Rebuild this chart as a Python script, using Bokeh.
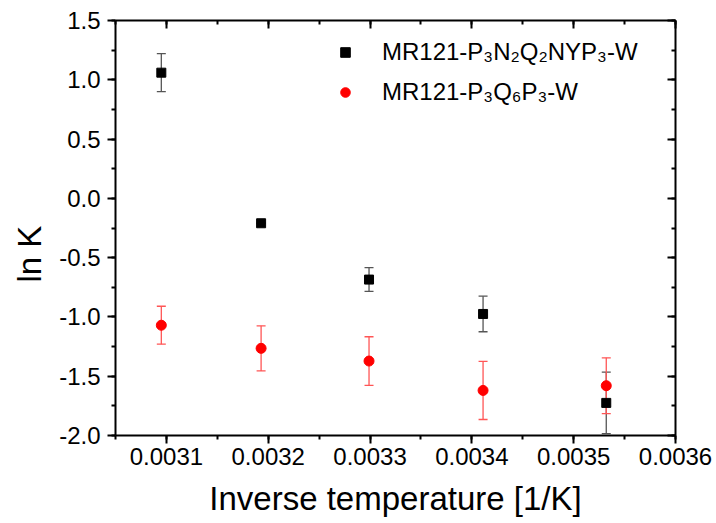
import math
from bokeh.plotting import figure
from bokeh.models import (ColumnDataSource, Whisker, TeeHead, LinearAxis, Range1d, Title,
                          SingleIntervalTicker, Legend, LegendItem, NumeralTickFormatter)
from bokeh.embed import file_html
from bokeh.resources import INLINE

# ---- data ----
inv_T = [0.003095, 0.003193, 0.003299, 0.003411, 0.003532]
lnK_a = [1.06, -0.21, -0.685, -0.975, -1.725]
err_a = [0.16, 0.0, 0.10, 0.15, 0.26]
lnK_b = [-1.07, -1.265, -1.372, -1.62, -1.58]
err_b = [0.16, 0.19, 0.205, 0.245, 0.235]
label_a = "MR121-P₃N₂Q₂NYP₃-W"
label_b = "MR121-P₃Q₆P₃-W"
x_title = "Inverse temperature [1/K]"
y_title = "ln K"

X_MIN, X_MAX = 0.00305, 0.0036
Y_MIN, Y_MAX = -2.0, 1.5
FONT = "Liberation Sans"

src_a = ColumnDataSource(dict(x=inv_T, y=lnK_a,
                              lo=[v - e for v, e in zip(lnK_a, err_a)],
                              hi=[v + e for v, e in zip(lnK_a, err_a)]))
src_b = ColumnDataSource(dict(x=inv_T, y=lnK_b,
                              lo=[v - e for v, e in zip(lnK_b, err_b)],
                              hi=[v + e for v, e in zip(lnK_b, err_b)]))

# tiny epsilon so the 0.0036 tick (float 0.0036000000000000003) is kept
p = figure(width=716, height=523, output_backend="svg", toolbar_location=None,
           x_range=Range1d(X_MIN, X_MAX + 1e-10), y_range=Range1d(Y_MIN, Y_MAX),
           min_border_left=115, min_border_right=41, min_border_top=20, min_border_bottom=88,
           background_fill_color="white", border_fill_color="white")
p.outline_line_color = None
p.grid.visible = False

xt = SingleIntervalTicker(interval=0.0001, num_minor_ticks=2)
yt = SingleIntervalTicker(interval=0.5, num_minor_ticks=2)

def style_axis(ax, labels=True, inward=False):
    ax.axis_line_width = 2
    ax.axis_line_color = "black"
    ax.major_tick_line_width = 2
    ax.minor_tick_line_width = 2
    ax.major_tick_line_color = "black"
    ax.minor_tick_line_color = "black"
    if inward:
        ax.major_tick_in, ax.major_tick_out = 8, 0
        ax.minor_tick_in, ax.minor_tick_out = 4, 0
    else:
        ax.major_tick_in, ax.major_tick_out = 0, 8
        ax.minor_tick_in, ax.minor_tick_out = 0, 4
    if labels:
        ax.major_label_text_font = FONT
        ax.major_label_text_font_size = "24px"
        ax.major_label_text_color = "black"
        ax.major_label_standoff = 4
    else:
        ax.major_label_text_font_size = "1px"
        ax.major_label_text_color = None
        ax.major_label_standoff = 0

xa = p.xaxis[0]
xa.ticker = xt
xa.formatter = NumeralTickFormatter(format="0.0000")
style_axis(xa)
xa.axis_label = x_title
xa.axis_label_text_font = FONT
xa.axis_label_text_font_size = "33px"
xa.axis_label_text_font_style = "normal"
xa.axis_label_text_color = "black"
xa.axis_label_standoff = 12

ya = p.yaxis[0]
ya.ticker = yt
ya.formatter = NumeralTickFormatter(format="0.0")
style_axis(ya)
ya.major_label_standoff = 7

top = LinearAxis(ticker=xt)
style_axis(top, labels=False, inward=True)
p.add_layout(top, "above")
right = LinearAxis(ticker=yt)
style_axis(right, labels=False, inward=True)
p.add_layout(right, "right")

# y-axis title as a side title (lets it sit where the reference has it)
p.add_layout(Title(text=y_title, align="left", offset=153, standoff=17,
                   text_font=FONT, text_font_size="33px", text_font_style="normal",
                   text_color="black"), "left")

# error bars
wa = Whisker(base="x", lower="lo", upper="hi", source=src_a, dimension="height",
             line_color="#555555", line_width=1.3, level="underlay",
             upper_head=TeeHead(size=9, line_color="#555555", line_width=1.3),
             lower_head=TeeHead(size=9, line_color="#555555", line_width=1.3))
wb = Whisker(base="x", lower="lo", upper="hi", source=src_b, dimension="height",
             line_color="#ff5555", line_width=1.3, level="underlay",
             upper_head=TeeHead(size=9, line_color="#ff5555", line_width=1.3),
             lower_head=TeeHead(size=9, line_color="#ff5555", line_width=1.3))
p.add_layout(wa)
p.add_layout(wb)

rb = p.scatter("x", "y", source=src_b, marker="circle", size=10,
               fill_color="#ff0000", line_color="#ff0000")
ra = p.scatter("x", "y", source=src_a, marker="square", size=9,
               fill_color="black", line_color="black")

legend = Legend(items=[LegendItem(label=label_a, renderers=[ra]),
                       LegendItem(label=label_b, renderers=[rb])],
                location=(218, 323), orientation="vertical",
                glyph_width=24, glyph_height=40, label_height=40, spacing=0,
                label_standoff=25, padding=0, margin=0,
                border_line_color=None, background_fill_alpha=0,
                label_text_font=FONT, label_text_font_size="24px", label_text_color="black")
p.add_layout(legend)

open("out.html", "w").write(file_html(p, INLINE))
